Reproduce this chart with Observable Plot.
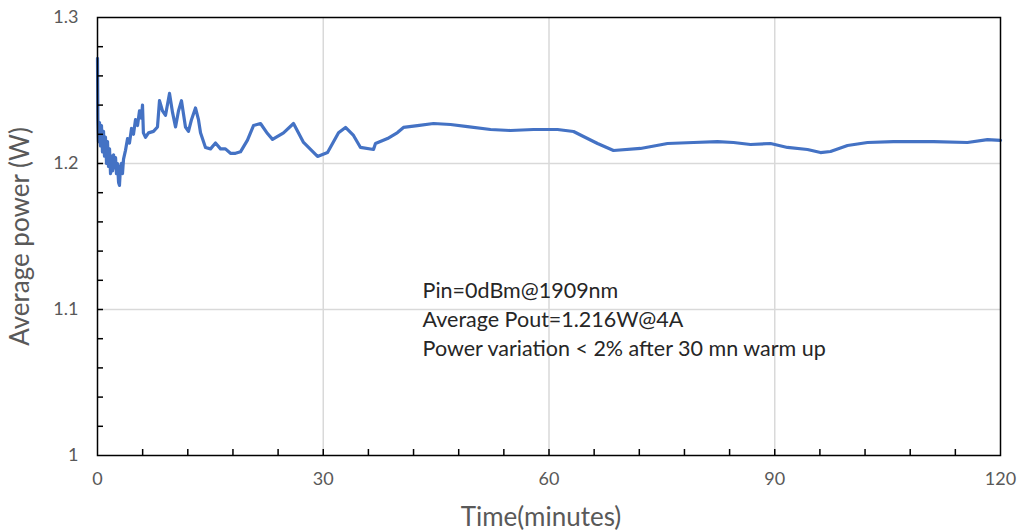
<!DOCTYPE html>
<html>
<head>
<meta charset="utf-8">
<script src="https://cdn.jsdelivr.net/npm/d3@7"></script>
<script src="https://cdn.jsdelivr.net/npm/@observablehq/plot@0.6"></script>
<style>
  html, body { margin: 0; padding: 0; background: #fff; }
  #chart { width: 1019px; height: 531px; }
</style>
</head>
<body>
<div id="chart"></div>
<script>
// Time in minutes
const times = [
  0, 0.05, 0.13, 0.27, 0.4, 0.53, 0.66, 0.8, 0.93, 1.06, 1.2, 1.33, 1.46, 1.6, 1.73, 1.86,
  2.0, 2.13, 2.26, 2.4, 2.52, 2.66, 2.8, 2.92, 3.06, 3.19, 3.32, 3.46, 3.72, 3.99, 4.25,
  4.52, 4.78, 5.05, 5.32, 5.58, 5.85, 5.98, 6.1, 6.38, 6.78, 7.44, 7.97, 8.24, 8.64, 9.04,
  9.57, 9.97, 10.37, 10.76, 11.16, 11.69, 12.09, 12.49, 13.02, 13.42, 13.69, 14.35, 15.02,
  15.68, 16.35, 17.0, 17.67, 18.34, 19.0, 19.93, 20.73, 21.66, 22.59, 23.26, 24.72, 26.05,
  27.38, 29.24, 30.57, 32.03, 32.96, 34.02, 34.95, 36.68, 36.94, 38.54, 39.87, 40.66,
  42.52, 44.65, 46.91, 49.17, 52.23, 54.88, 57.94, 61.13, 63.26, 64.58, 66.45, 68.57,
  72.16, 75.75, 79.2, 82.39, 84.52, 86.78, 89.44, 91.69, 94.35, 96.08, 97.41, 99.67,
  102.33, 105.78, 111.1, 115.6, 118.27, 120
];
// Average power in W
const power = [
  1.272, 1.231, 1.215, 1.228, 1.212, 1.226, 1.208, 1.222, 1.205, 1.218, 1.2, 1.215, 1.198, 1.21, 1.193, 1.205,
  1.195, 1.206, 1.197, 1.204, 1.193, 1.2, 1.187, 1.185, 1.198, 1.2, 1.193, 1.203, 1.209, 1.217, 1.214,
  1.224, 1.22, 1.23, 1.226, 1.236, 1.231, 1.24, 1.221, 1.218, 1.221, 1.222, 1.225, 1.243, 1.236, 1.233,
  1.248, 1.235, 1.225, 1.236, 1.243, 1.225, 1.222, 1.23, 1.238, 1.23, 1.221, 1.211, 1.21,
  1.214, 1.21, 1.21, 1.207, 1.207, 1.208, 1.216, 1.226, 1.2274, 1.2205, 1.2165, 1.221, 1.2274,
  1.2144, 1.2048, 1.2075, 1.221, 1.2247, 1.2192, 1.211, 1.2096, 1.2137, 1.2171, 1.2212, 1.2247,
  1.226, 1.2274, 1.2267, 1.2253, 1.2233, 1.2226, 1.2233, 1.2233, 1.2219, 1.2185, 1.2137, 1.2089,
  1.2103, 1.2137, 1.2144, 1.215, 1.2144, 1.213, 1.2137, 1.211, 1.2096, 1.2075, 1.2082, 1.2123,
  1.2144, 1.215, 1.215, 1.2144, 1.2164, 1.2158
];

const xTickLabels = [0, 30, 60, 90, 120];
const yTickLabels = [1, 1.1, 1.2, 1.3];
const xMinorTicks = [6, 12, 18, 24, 30, 36, 42, 48, 54, 60, 66, 72, 78, 84, 90, 96, 102, 108, 114];
const yMinorTicks = [1.02, 1.04, 1.06, 1.08, 1.1, 1.12, 1.14, 1.16, 1.18, 1.2, 1.22, 1.24, 1.26, 1.28];
const xGrid = [30, 60, 90];
const yGrid = [1.1, 1.2];
const xTitle = "Time(minutes)";
const yTitle = "Average power (W)";
const noteLines = ["Pin=0dBm@1909nm", "Average Pout=1.216W@4A", "Power variation < 2% after 30 mn warm up"];
const noteAt = {t: 43.2, p: 1.0945};

const data = times.map((t, i) => ({t, p: power[i]}));

const chart = Plot.plot({
  width: 1019,
  height: 531,
  marginLeft: 97,
  marginRight: 19,
  marginTop: 17,
  marginBottom: 76,
  style: {fontFamily: "Lato, 'Open Sans', sans-serif", background: "#fff"},
  x: {domain: [0, 120]},
  y: {domain: [1, 1.3]},
  marks: [
    Plot.gridX(xGrid, {stroke: "#d9d9d9", strokeOpacity: 1, strokeWidth: 1.5}),
    Plot.gridY(yGrid, {stroke: "#d9d9d9", strokeOpacity: 1, strokeWidth: 1.5}),
    Plot.line(data, {x: "t", y: "p", stroke: "#4472C4", strokeWidth: 3.2, strokeLinejoin: "round"}),
    Plot.text([noteLines.join("\n")], {
      x: () => noteAt.t, y: () => noteAt.p, text: d => d,
      textAnchor: "start", lineAnchor: "middle", lineHeight: 1.37,
      fontSize: 21.5, fill: "#262626"
    }),
    Plot.frame({stroke: "#000", strokeWidth: 1.5}),
    Plot.axisX(xMinorTicks, {tickSize: 6, dy: -6, tickFormat: () => "", stroke: "#000", strokeWidth: 1.5, label: null}),
    Plot.axisY(yMinorTicks, {tickSize: 6, dx: 6, tickFormat: () => "", stroke: "#000", strokeWidth: 1.5, label: null}),
    Plot.axisX(xTickLabels, {tickSize: 0, tickPadding: 17, fontSize: 18, fill: "#595959", label: null}),
    Plot.axisY(yTickLabels, {tickSize: 0, tickPadding: 19, fontSize: 18, fill: "#595959", label: null, tickFormat: d => String(d)}),
    Plot.text([xTitle], {frameAnchor: "bottom", dy: 62, dx: -8, text: d => d, fontSize: 26, fill: "#595959", lineAnchor: "middle", textAnchor: "middle"}),
    Plot.text([yTitle], {frameAnchor: "left", dx: -77, rotate: -90, text: d => d, fontSize: 26, fill: "#595959", lineAnchor: "middle", textAnchor: "middle"})
  ]
});
document.getElementById("chart").appendChild(chart);
</script>
</body>
</html>
